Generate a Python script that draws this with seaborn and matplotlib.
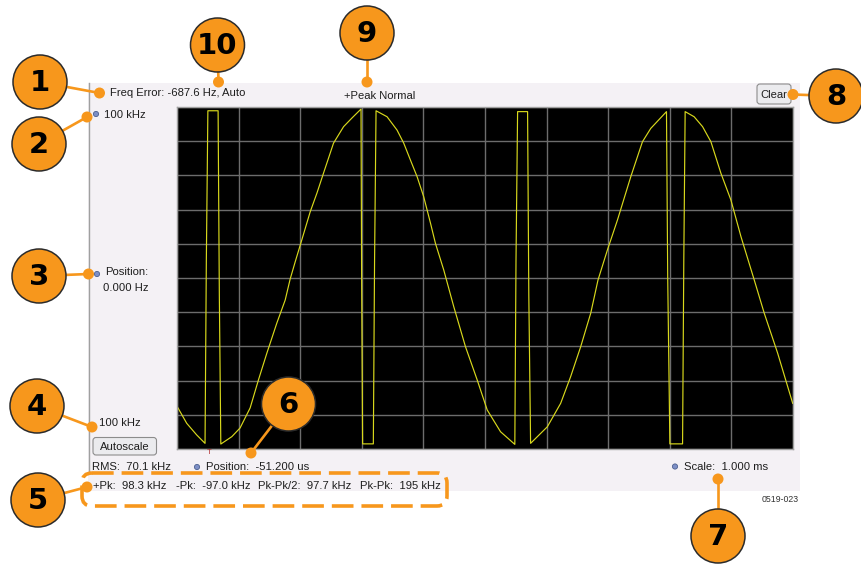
import matplotlib
matplotlib.use("Agg")
import matplotlib.pyplot as plt
from matplotlib.patches import Circle, Rectangle, FancyBboxPatch
import seaborn as sns
import pandas as pd

# Frequency-vs-time trace (+Peak detector), time in ms, frequency in kHz
time_ms = [
    -0.046, 0.107, 0.269, 0.404,
    0.425, 0.450, 0.616, 0.636, 0.660,
    0.838, 0.973, 1.136, 1.271, 1.408, 1.570, 1.705, 1.786, 1.868, 1.960,
    2.112, 2.221, 2.328, 2.490, 2.653, 2.790, 2.936,
    2.946, 2.962, 3.136, 3.156, 3.180,
    3.359, 3.521, 3.629, 3.738, 3.847, 3.954, 4.063, 4.144, 4.279, 4.442,
    4.632, 4.822, 4.985, 5.201, 5.433,
    5.452, 5.478, 5.640, 5.660, 5.689,
    5.961, 6.177, 6.339, 6.502, 6.665, 6.783, 6.936, 7.099, 7.315, 7.505,
    7.640, 7.895,
    7.915, 7.950, 8.156, 8.176, 8.198,
    8.344, 8.481, 8.616, 8.779, 8.941, 9.104, 9.320, 9.482, 9.700, 9.944,
]
freq_khz = [
    -75.3, -85.0, -91.8, -96.7,
    10.0, 97.8, 97.8, -10.0, -97.1,
    -92.8, -87.7, -76.0, -59.6, -43.9, -26.3, -12.9, -0.6, 9.5, 20.5,
    38.8, 49.7, 61.4, 78.9, 88.5, 93.6, 98.8,
    0.0, -97.0, -97.0, 10.0, 97.8,
    94.3, 86.5, 78.9, 69.0, 59.2, 47.5, 32.2, 20.3, 4.7, -16.8,
    -40.2, -59.6, -77.2, -89.9, -97.3,
    10.0, 97.3, 97.3, -10.0, -96.7,
    -87.0, -73.3, -57.7, -40.2, -20.6, -1.2, 16.4, 33.9, 59.2, 79.7,
    87.5, 97.3,
    0.0, -97.0, -97.0, 10.0, 97.3,
    94.3, 88.5, 79.7, 61.2, 45.6, 24.2, -1.2, -20.6, -44.0, -73.3,
]

# Display settings and readouts
x_position_ms = -0.0512
x_scale_ms = 1.0
x_divisions = 10
y_top_khz = 100
y_divisions = 10

freq_error_text = "Freq Error: -687.6 Hz, Auto"
detector_text = "+Peak Normal"
y_top_label = "100 kHz"
y_bottom_label = "100 kHz"
y_position_labels = ["Position:", "0.000 Hz"]
rms_text = "RMS:  70.1 kHz"
x_position_text = "Position:  -51.200 us"
x_scale_text = "Scale:  1.000 ms"
peak_stats = ["+Pk:  98.3 kHz", "-Pk:  -97.0 kHz", "Pk-Pk/2:  97.7 kHz", "Pk-Pk:  195 kHz"]
figure_id = "0519-023"
callout_numbers = ["1", "2", "3", "4", "5", "6", "7", "8", "9", "10"]

W, H = 861, 567
ORANGE = "#f7971c"
UI_FONT = "Liberation Sans"
UI_SIZE = 8.1
TEXT_COLOR = "#1e1e1e"

fig = plt.figure(figsize=(W / 100, H / 100), dpi=100)
fig.patch.set_facecolor("white")


def fig_rect(x0, y0, x1, y1):
    return [x0 / W, 1 - y1 / H, (x1 - x0) / W, (y1 - y0) / H]


# Instrument panel background
bg = fig.add_axes([0, 0, 1, 1], zorder=0)
bg.set_xlim(0, W)
bg.set_ylim(H, 0)
bg.axis("off")
bg.add_patch(Rectangle((88, 83), 712, 408, facecolor="#f4f1f5", edgecolor="none"))
bg.plot([88.5, 88.5], [83, 472], color="#a0a0a0", lw=1)

# Graticule and trace
ax = fig.add_axes(fig_rect(177, 107, 793, 449), zorder=1)
ax.set_facecolor("black")
df = pd.DataFrame({"Time (ms)": time_ms, "Frequency (kHz)": freq_khz})
sns.lineplot(data=df, x="Time (ms)", y="Frequency (kHz)", ax=ax, sort=False,
             estimator=None, color="#d8d81c", lw=0.85)
x_end = x_position_ms + x_scale_ms * x_divisions
ax.set_xlim(x_position_ms, x_end)
ax.set_ylim(-y_top_khz, y_top_khz)
ax.set_xticks([x_position_ms + k * x_scale_ms for k in range(x_divisions + 1)])
ax.set_yticks([-y_top_khz + k * 2 * y_top_khz / y_divisions for k in range(y_divisions + 1)])
ax.grid(True, color="#6c6c6c", lw=1)
ax.set_axisbelow(True)
ax.tick_params(length=0, labelbottom=False, labelleft=False)
ax.set_xlabel("")
ax.set_ylabel("")
for s in ax.spines.values():
    s.set_color("#a0a0a0")
    s.set_linewidth(1)

# Overlay: readouts, buttons and numbered callouts
ov = fig.add_axes([0, 0, 1, 1], zorder=3)
ov.set_xlim(0, W)
ov.set_ylim(H, 0)
ov.axis("off")
ov.patch.set_alpha(0)


def ui_text(x, y, s, **kw):
    kw.setdefault("fontsize", UI_SIZE)
    kw.setdefault("color", TEXT_COLOR)
    ov.text(x, y, s, family=UI_FONT, ha=kw.pop("ha", "left"), va="center", **kw)


def icon(x, y):
    ov.add_patch(Circle((x, y), 2.6, facecolor="#7d8fc6", edgecolor="#4d6090", lw=0.6, zorder=4))


ui_text(110, 93, freq_error_text)
ui_text(344, 96, detector_text)
icon(96, 114)
ui_text(104, 114.5, y_top_label)
icon(97, 274)
ui_text(105, 272, y_position_labels[0])
ui_text(103, 288, y_position_labels[1])
ui_text(99, 423, y_bottom_label)
ui_text(92, 467, rms_text)
icon(197, 467)
ui_text(206, 466.5, x_position_text)
icon(675, 466.5)
ui_text(684, 466.5, x_scale_text)
for x, s in zip([93, 176.5, 258, 360], peak_stats):
    ui_text(x, 486, s)
ui_text(762, 500, figure_id, fontsize=6.3, color="#333333")
ov.text(209.5, 452.5, "T", family=UI_FONT, fontsize=5.5, color="#b02a2a", ha="center", va="center")

# Buttons
for (x0, y0, w, h, label) in [(757, 84, 34, 20, "Clear"), (93, 437.5, 63.5, 17.5, "Autoscale")]:
    ov.add_patch(FancyBboxPatch((x0, y0), w, h, boxstyle="round,pad=0,rounding_size=3",
                                facecolor="#ebebee", edgecolor="#8c8c8c", lw=0.8, zorder=4))
    ui_text(x0 + w / 2, y0 + h / 2 + 0.5, label, ha="center", zorder=5)

# Dashed outline around the peak statistics
ov.add_patch(FancyBboxPatch((82, 473), 365, 33, boxstyle="round,pad=0,rounding_size=10",
                            fill=False, edgecolor=ORANGE, lw=2.6, linestyle=(0, (6, 2.2)), zorder=6))

# Numbered callouts: (circle centre, leader end)
callouts = [
    ((40, 82), (99.5, 93)),
    ((39, 144), (87, 117)),
    ((39, 276), (88.5, 274)),
    ((37, 406), (92, 427)),
    ((38, 500), (87, 487)),
    ((288.5, 404), (251, 453)),
    ((718, 536), (718, 479)),
    ((836, 96), (793, 94.5)),
    ((367, 33), (367, 82)),
    ((217.5, 45), (218.5, 82)),
]
for num, ((cx, cy), (dx, dy)) in zip(callout_numbers, callouts):
    ov.plot([cx, dx], [cy, dy], color=ORANGE, lw=1.9, solid_capstyle="round", zorder=7)
    ov.add_patch(Circle((dx, dy), 5.5, facecolor=ORANGE, edgecolor="none", zorder=8))
    ov.add_patch(Circle((cx, cy), 27, facecolor=ORANGE, edgecolor="#2b2b2b", lw=1.1, zorder=9))
    ov.text(cx, cy + 1, num, family="DejaVu Sans", fontweight="bold", fontsize=21,
            color="black", ha="center", va="center", zorder=10)

fig.savefig("out.png", dpi=100, facecolor="white")
